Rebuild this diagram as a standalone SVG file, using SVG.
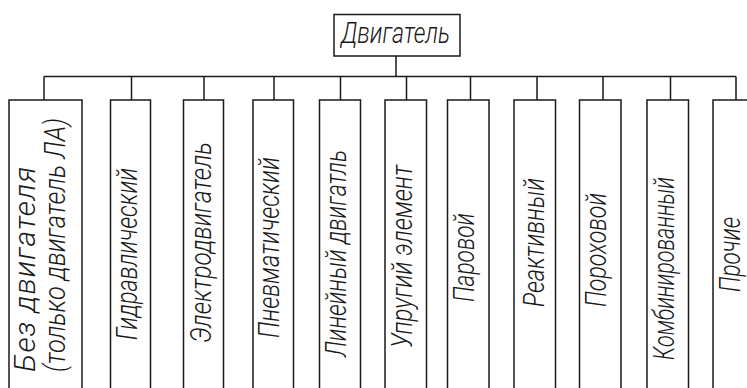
<svg xmlns="http://www.w3.org/2000/svg" width="747" height="388" viewBox="0 0 747 388">
<style>
.ln{fill:none;stroke:#1a1a1a;stroke-width:1.5}
.bx{fill:#fff;stroke:#1a1a1a;stroke-width:1.5}
.t{font-family:Roboto,"DejaVu Sans Condensed","Liberation Sans",sans-serif;font-style:italic;font-weight:300;font-size:30px;fill:#1a1a1a}
</style>
<rect x="0" y="0" width="747" height="388" fill="#fff"/>
<g id="connectors" class="ln">
<path d="M396 56V76.5M44 76.5H736"/>
<path d="M44 76.5V100M131.5 76.5V100M204 76.5V100M274 76.5V100M340.5 76.5V100M406.5 76.5V100M470.5 76.5V100M537 76.5V100M603 76.5V100M670.5 76.5V100M736 76.5V100"/>
</g>
<g id="root">
<rect class="bx" x="334" y="14.5" width="126" height="41.5"/>
<text class="t" x="341" y="42.5" textLength="109" lengthAdjust="spacingAndGlyphs">Двигатель</text>
</g>
<g id="n1">
<path class="ln" d="M9 395V100H82V395"/>
<text class="t" transform="translate(35 372) rotate(-90)" textLength="205" lengthAdjust="spacing">Без двигателя</text>
<text class="t" transform="translate(65 372) rotate(-90)" textLength="254" lengthAdjust="spacingAndGlyphs">(только двигатель ЛА)</text>
</g>
<g id="n2">
<path class="ln" d="M110.5 395V100H150.5V395"/>
<text class="t" transform="translate(137 340) rotate(-90)" textLength="172" lengthAdjust="spacingAndGlyphs">Гидравлический</text>
</g>
<g id="n3">
<path class="ln" d="M183.5 395V100H223.5V395"/>
<text class="t" transform="translate(211 343) rotate(-90)" textLength="201" lengthAdjust="spacingAndGlyphs">Электродвигатель</text>
</g>
<g id="n4">
<path class="ln" d="M253 395V100H293.5V395"/>
<text class="t" transform="translate(279 338) rotate(-90)" textLength="181" lengthAdjust="spacingAndGlyphs">Пневматический</text>
</g>
<g id="n5">
<path class="ln" d="M319.5 395V100H360.5V395"/>
<text class="t" transform="translate(346 357) rotate(-90)" textLength="207" lengthAdjust="spacingAndGlyphs">Линейный двигатль</text>
</g>
<g id="n6">
<path class="ln" d="M385 395V100H426.5V395"/>
<text class="t" transform="translate(412 348) rotate(-90)" textLength="183" lengthAdjust="spacingAndGlyphs">Упругий элемент</text>
</g>
<g id="n7">
<path class="ln" d="M447.5 395V100H489V395"/>
<text class="t" transform="translate(474 302) rotate(-90)" textLength="89" lengthAdjust="spacingAndGlyphs">Паровой</text>
</g>
<g id="n8">
<path class="ln" d="M514 395V100H555.5V395"/>
<text class="t" transform="translate(544 307) rotate(-90)" textLength="129" lengthAdjust="spacingAndGlyphs">Реактивный</text>
</g>
<g id="n9">
<path class="ln" d="M579.5 395V100H621V395"/>
<text class="t" transform="translate(606 307) rotate(-90)" textLength="114" lengthAdjust="spacingAndGlyphs">Пороховой</text>
</g>
<g id="n10">
<path class="ln" d="M647 395V100H688.5V395"/>
<text class="t" transform="translate(674 360) rotate(-90)" textLength="183" lengthAdjust="spacingAndGlyphs">Комбинированный</text>
</g>
<g id="n11">
<path class="ln" d="M713 395V100H755V395"/>
<text class="t" transform="translate(740 292) rotate(-90)" textLength="75" lengthAdjust="spacingAndGlyphs">Прочие</text>
</g>
</svg>
